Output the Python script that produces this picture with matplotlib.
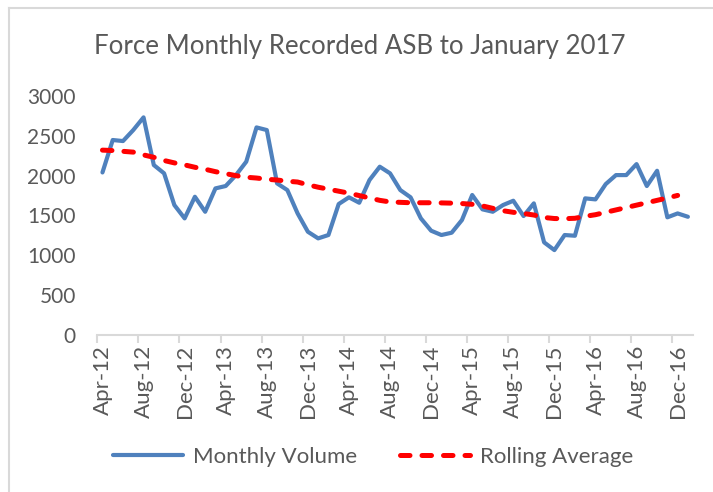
import numpy as np
import matplotlib
matplotlib.use("Agg")
import matplotlib.pyplot as plt
from matplotlib.lines import Line2D

plt.rcParams['font.family'] = ['Lato', 'DejaVu Sans']

# data (monthly, Apr-12 .. Jan-17)
months = ["Apr-12", "May-12", "Jun-12", "Jul-12", "Aug-12", "Sep-12", "Oct-12", "Nov-12",
          "Dec-12", "Jan-13", "Feb-13", "Mar-13", "Apr-13", "May-13", "Jun-13", "Jul-13",
          "Aug-13", "Sep-13", "Oct-13", "Nov-13", "Dec-13", "Jan-14", "Feb-14", "Mar-14",
          "Apr-14", "May-14", "Jun-14", "Jul-14", "Aug-14", "Sep-14", "Oct-14", "Nov-14",
          "Dec-14", "Jan-15", "Feb-15", "Mar-15", "Apr-15", "May-15", "Jun-15", "Jul-15",
          "Aug-15", "Sep-15", "Oct-15", "Nov-15", "Dec-15", "Jan-16", "Feb-16", "Mar-16",
          "Apr-16", "May-16", "Jun-16", "Jul-16", "Aug-16", "Sep-16", "Oct-16", "Nov-16",
          "Dec-16", "Jan-17"]

monthly_volume = [2040, 2447, 2434, 2572, 2731, 2133, 2029, 1631, 1464, 1735,
                  1547, 1840, 1870, 2007, 2175, 2605, 2572, 1903, 1819, 1526,
                  1296, 1213, 1255, 1644, 1728, 1660, 1945, 2112, 2029, 1819,
                  1728, 1464, 1309, 1255, 1284, 1443, 1757, 1577, 1547, 1631,
                  1685, 1493, 1652, 1163, 1066, 1255, 1246, 1715, 1702, 1894,
                  2007, 2007, 2145, 1870, 2061, 1477, 1526, 1484]

rolling_average = [2320, 2315, 2305, 2295, 2260, 2230, 2190, 2160, 2135, 2105,
                   2080, 2050, 2025, 2000, 1980, 1970, 1955, 1945, 1930, 1920,
                   1885, 1855, 1830, 1805, 1780, 1750, 1720, 1690, 1670, 1665,
                   1660, 1660, 1660, 1658, 1655, 1650, 1640, 1620, 1590, 1560,
                   1540, 1525, 1506, 1475, 1462, 1460, 1465, 1490, 1510, 1540,
                   1570, 1600, 1630, 1660, 1690, 1720, 1752, np.nan]

text_col = "#595959"
grid_col = "#d9d9d9"

fig = plt.figure(figsize=(7.13, 4.92), dpi=100)
ax = fig.add_axes([0.1365, 0.319, 0.972 - 0.1365, 0.805 - 0.319])

x = np.arange(len(months))
ax.plot(x, monthly_volume, color="#4f81bd", lw=3, solid_joinstyle="round",
        solid_capstyle="round", label="Monthly Volume", zorder=2)
ax.plot(x, rolling_average, color="#ff0000", lw=3.6, ls=(0, (1.9, 2.4)),
        dash_capstyle="round", label="Rolling Average", zorder=3)

ax.set_xlim(-0.5, len(months) - 0.5)
ax.set_ylim(0, 3000)
ax.set_yticks(range(0, 3001, 500))
ax.tick_params(axis="y", length=0, labelsize=15, labelcolor=text_col, pad=15.5)

ax.set_xticks(np.arange(-0.5, len(months), 4))
ax.set_xticklabels([])
ax.set_xticks(x[::4], minor=True)
ax.set_xticklabels(months[::4], minor=True, rotation=90)
ax.tick_params(axis="x", which="major", length=6, color=grid_col, width=1.5)
ax.tick_params(axis="x", which="minor", length=0, labelsize=16,
               labelcolor=text_col, pad=7)

for s in ["top", "right", "left"]:
    ax.spines[s].set_visible(False)
ax.spines["bottom"].set_color(grid_col)
ax.spines["bottom"].set_linewidth(1.5)

fig.text(0.505, 0.905, "Force Monthly Recorded ASB to January 2017",
         ha="center", va="center", fontsize=18.6, color=text_col)

handles = [Line2D([], [], color="#4f81bd", lw=3, solid_capstyle="round"),
           Line2D([], [], color="#ff0000", lw=3.6, ls=(0, (1.9, 2.4)),
                  dash_capstyle="round")]
fig.legend(handles, ["Monthly Volume", "Rolling Average"], loc="center",
           bbox_to_anchor=(0.523, 0.071), ncol=2, frameon=False, fontsize=16,
           labelcolor=text_col, handlelength=3.15, columnspacing=1.95,
           handletextpad=0.45)

# chart-area border (top and left edges visible)
fig.add_artist(Line2D([9 / 713, 9 / 713], [0, 1 - 8 / 492], color=grid_col, lw=1.5))
fig.add_artist(Line2D([9 / 713, 1], [1 - 8 / 492, 1 - 8 / 492], color=grid_col, lw=1.5))

fig.savefig("out.png", dpi=100)
